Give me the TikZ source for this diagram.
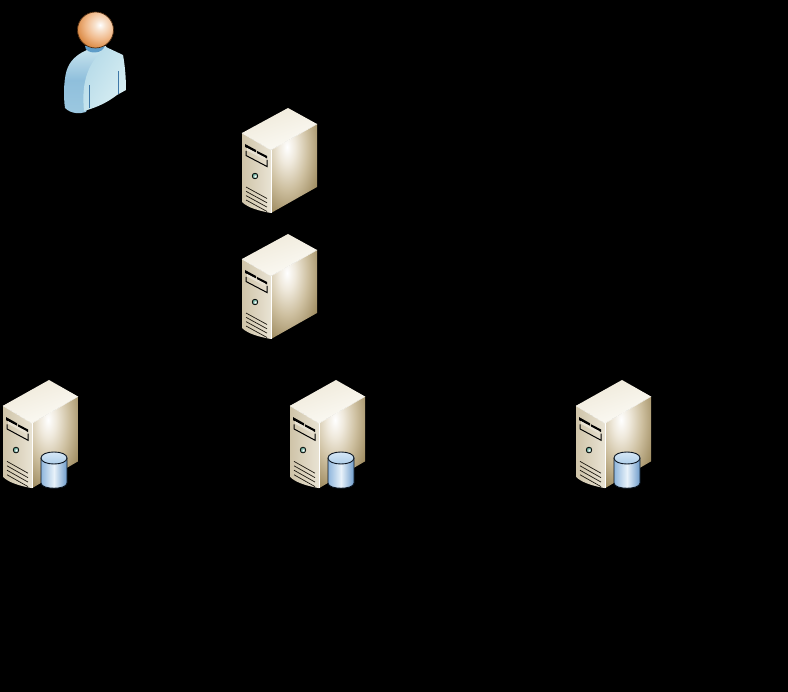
\documentclass[tikz,border=0pt]{standalone}
\definecolor{srvTopL}{HTML}{EFE9D9}
\definecolor{srvTopR}{HTML}{FCFBF6}
\definecolor{srvFrontL}{HTML}{CFC4A8}
\definecolor{srvFrontR}{HTML}{E9E3D4}
\definecolor{srvRightD}{HTML}{A08D62}
\definecolor{srvGlowA}{HTML}{EFE9DC}
\definecolor{srvGlowB}{HTML}{CDBF9F}
\definecolor{srvBtn}{HTML}{3F8D78}
\definecolor{srvVent}{HTML}{1C1810}
\definecolor{cyl1}{HTML}{8FB6DC}
\definecolor{cyl2}{HTML}{DCEBF8}
\definecolor{cyl3}{HTML}{6E9CCB}
\definecolor{cyl4}{HTML}{A9CBE8}
\definecolor{cylMid}{HTML}{E8F2FA}
\definecolor{cylline}{HTML}{0A1420}
\definecolor{skinHi}{HTML}{F8E3CF}
\definecolor{skinMid}{HTML}{F0B98A}
\definecolor{skinOut}{HTML}{DD8F4C}
\definecolor{skinEdge}{HTML}{C87A35}
\definecolor{skinLine}{HTML}{4A2A10}
\definecolor{neckC}{HTML}{5E9CC8}
\definecolor{armTop}{HTML}{CDE7EF}
\definecolor{armMid}{HTML}{8FBFDC}
\definecolor{armBot}{HTML}{9CC8E0}
\definecolor{torsoA}{HTML}{B5DAE8}
\definecolor{torsoB}{HTML}{D8EEF3}
\definecolor{bodyD}{HTML}{3F78A8}
\pgfdeclareradialshading{headball}{\pgfpoint{0bp}{0bp}}{
  color(0bp)=(white); color(5bp)=(skinHi); color(14bp)=(skinMid); color(22bp)=(skinOut); color(25bp)=(skinEdge)}
\pgfdeclareradialshading{srvglow}{\pgfpoint{0bp}{0bp}}{
  color(0bp)=(white); color(6bp)=(srvGlowA); color(15bp)=(srvGlowB); color(25bp)=(srvRightD); color(50bp)=(srvRightD)}
\begin{document}
\begin{tikzpicture}[x=1pt,y=-1pt,
  pics/dbcyl/.style={code={
    \shade[left color=cyl1,right color=cyl3,middle color=cylMid]
      (0,4) -- (0,31) .. controls (0,38) and (26,38) .. (26,31) -- (26,4) -- cycle;
    \draw[cylline,line width=0.9pt]
      (0,6) -- (0,31) .. controls (0,38) and (26,38) .. (26,31) -- (26,6);
    \shade[top color=cyl2,bottom color=cyl4,draw=cylline,line width=0.9pt]
      (0,6) .. controls (0,-2) and (26,-2) .. (26,6) .. controls (26,14) and (0,14) .. (0,6) -- cycle;
  }},
  pics/serverbox/.style={code={
    % top face
    \shade[left color=srvTopL,right color=srvTopR,shading angle=20]
      (46,0) -- (75,16) -- (29,42) -- (0,25) -- cycle;
    % front face
    \shade[left color=srvFrontL,right color=srvFrontR]
      (0,25) -- (29,42) -- (29,105) .. controls (18,103) and (6,100) .. (0,94) -- cycle;
    % right face
    \begin{scope}
      \clip (29,42) -- (75,16) -- (75,79) -- (29,105) -- cycle;
      \shade[shading=srvglow] (10,-32) rectangle (80,110);
    \end{scope}
    \draw[white,line width=0.9pt] (29,42) -- (29,105);
    \draw[srvTopR,line width=0.5pt] (0,25) -- (29,42) -- (75,16);
    % drive bays
    \fill[black] (3,36) -- (14,42) -- (14,44.5) -- (3,39) -- cycle;
    \fill[black] (15,43) -- (25,48) -- (25,50.5) -- (15,45.5) -- cycle;
    \fill[srvFrontR] (5,40) -- (23,49.5) -- (23,52) -- (5,42.5) -- cycle;
    \draw[black,line width=1pt] (4,43) -- (4,47.5) -- (25,58.5) -- (25,52);
    % power button
    \shade[inner color=white,outer color=srvBtn,draw=black,line width=0.7pt] (13,68) circle (2.8);
    % vents
    \foreach \dy in {0,4.3,8.6,13} {
      \draw[srvVent,line width=0.7pt] (4,79+\dy) -- (25,90.5+\dy);
    }
  }}]
\useasboundingbox (0,0) rectangle (788,692);
\fill[black] (0,0) rectangle (788,692);
% person
\shade[top color=armTop,bottom color=armBot,middle color=armMid]
  (65,108) .. controls (63,95) and (64,75) .. (68,67)
  .. controls (72,58) and (80,53) .. (87,50)
  -- (106,46) -- (106,60) -- (86,112)
  .. controls (80,114) and (71,114) .. (65,108) -- cycle;
\shade[left color=torsoA,right color=torsoB,shading angle=60]
  (84,111) .. controls (82,88) and (84,66) .. (106,47)
  -- (123,55)
  .. controls (125,66) and (126,78) .. (126,90)
  -- (117,95)
  .. controls (108,102) and (98,107) .. (84,111) -- cycle;
\draw[bodyD,line width=0.8pt] (89,85) -- (89,108);
\draw[bodyD,line width=0.8pt] (118,71) -- (118,94);
\fill[neckC] (85,46) .. controls (85,55) and (105,55) .. (105,44) -- cycle;
\begin{scope}
  \clip (95.5,30) circle (18);
  \fill[skinOut] (77,12) rectangle (114,48);
  \shade[shading=headball] (74,-1) rectangle (126,51);
\end{scope}
\draw[skinLine,line width=0.7pt] (95.5,30) circle (18);
% servers
\pic at (242,108) {serverbox};
\pic at (242,234) {serverbox};
\pic[yscale=1.03] at (3,380) {serverbox};
\pic[yscale=1.03] at (290,380) {serverbox};
\pic[yscale=1.03] at (576,380) {serverbox};
% databases
\pic at (41,452) {dbcyl};
\pic at (328,452) {dbcyl};
\pic at (614,452) {dbcyl};
\end{tikzpicture}
\end{document}
